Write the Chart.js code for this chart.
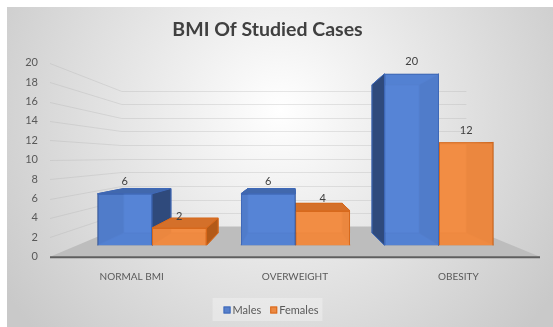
<!DOCTYPE html>
<html><head><meta charset="utf-8">
<script src="https://cdn.jsdelivr.net/npm/chart.js@4.4.0/dist/chart.umd.min.js"></script>
<style>html,body{margin:0;padding:0;background:#fff;overflow:hidden}canvas{display:block}</style>
</head><body>
<canvas id="c" width="553" height="327"></canvas>
<script>
// ---- data ----
const categories = ['NORMAL BMI', 'OVERWEIGHT', 'OBESITY'];
const males = [6, 6, 20];
const females = [2, 4, 12];
const seriesNames = ['Males', 'Females'];
const yTickMin = 0, yTickMax = 20, yTickStep = 2;
const chartTitle = 'BMI Of Studied Cases';

// ---- style ----
const FONT = 'Lato, "Open Sans", sans-serif';
const VIEW = {vx: 0.494, vy: 0.476, wall: 0.703, depth: 0.865};
const STYLE = [
  {front: 'rgba(86,133,215,0.86)', border: '#3f69b8', top: '#4168ad', side: '#2f4a7c', back: '#5780cc', edge: 'rgba(45,80,150,0.75)'},
  {front: 'rgba(243,141,68,0.88)', border: '#d8691c', top: '#d4702a', side: '#b35a18', back: '#ec8942', edge: 'rgba(200,95,20,0.75)'}
];

function vp(a) { return {x: a.left + VIEW.vx * (a.right - a.left), y: a.top + VIEW.vy * (a.bottom - a.top)}; }

function poly(ctx, pts, fill, stroke) {
  ctx.beginPath();
  ctx.moveTo(pts[0][0], pts[0][1]);
  for (let i = 1; i < pts.length; i++) ctx.lineTo(pts[i][0], pts[i][1]);
  ctx.closePath();
  if (fill) { ctx.fillStyle = fill; ctx.fill(); }
  if (stroke) { ctx.strokeStyle = stroke; ctx.lineWidth = 1; ctx.stroke(); }
}

const scene = {
  id: 'scene',
  beforeDraw(chart) {
    const {ctx, width, height} = chart;
    ctx.save();
    ctx.fillStyle = '#fff';
    ctx.fillRect(0, 0, width, height);
    const g = ctx.createRadialGradient(280, 110, 0, 280, 110, 330);
    g.addColorStop(0, '#ffffff');
    g.addColorStop(1, '#c9c9c9');
    ctx.fillStyle = g;
    ctx.fillRect(7, 7, width - 7, height - 7);
    ctx.font = 'bold 19.5px ' + FONT;
    ctx.fillStyle = '#404040';
    ctx.textAlign = 'center';
    ctx.textBaseline = 'middle';
    ctx.fillText(chartTitle, 267.5, 30);
    ctx.restore();
  },
  beforeDatasetsDraw(chart) {
    const {ctx, chartArea: a} = chart;
    const ys = chart.scales.y;
    const V = vp(a);
    const P = (x, y, s) => [V.x + s * (x - V.x), V.y + s * (y - V.y)];
    ctx.save();
    // gridlines on left and back walls
    ctx.strokeStyle = 'rgba(170,170,170,0.28)';
    ctx.lineWidth = 1;
    ys.ticks.forEach(t => {
      if (t.value === 0) return;
      const yw = Math.round(ys.getPixelForValue(t.value)) + 0.5;
      const bl = P(a.left, yw, VIEW.wall), br = P(a.right, yw, VIEW.wall);
      const by = Math.round(bl[1]) + 0.5;
      ctx.beginPath();
      ctx.moveTo(a.left, yw);
      ctx.lineTo(bl[0], by);
      ctx.lineTo(br[0], by);
      ctx.stroke();
    });
    // floor
    const fl = P(a.left, a.bottom, VIEW.wall), fr = P(a.right, a.bottom, VIEW.wall);
    poly(ctx, [[a.left, a.bottom], [a.right, a.bottom], fr, fl], '#bdbdbd');
    ctx.strokeStyle = '#5e5e5e';
    ctx.lineWidth = 2;
    ctx.beginPath();
    ctx.moveTo(a.left, a.bottom + 0.5);
    ctx.lineTo(a.right, a.bottom + 0.5);
    ctx.stroke();
    // bar depth (back, sides, top) from library bar geometry
    const items = [];
    chart.data.datasets.forEach((ds, di) => {
      chart.getDatasetMeta(di).data.forEach(el => {
        const p = el.getProps(['x', 'y', 'base', 'width'], true);
        items.push({p, st: STYLE[di]});
      });
    });
    items.sort((m, n) => Math.abs(n.p.x - V.x) - Math.abs(m.p.x - V.x));
    items.forEach(({p, st}) => {
      const l = p.x - p.width / 2, r = p.x + p.width / 2, t = p.y, b = p.base;
      const TL = [l, t], TR = [r, t], BR = [r, b], BL = [l, b];
      const tl = P(l, t, VIEW.depth), tr = P(r, t, VIEW.depth), br = P(r, b, VIEW.depth), bl = P(l, b, VIEW.depth);
      const faces = [
        {pts: [TL, TR, tr, tl], vis: t > V.y, c: st.top},
        {pts: [BL, BR, br, bl], vis: b < V.y, c: st.top},
        {pts: [TL, BL, bl, tl], vis: l > V.x, c: st.side},
        {pts: [TR, BR, br, tr], vis: r < V.x, c: st.side}
      ];
      poly(ctx, [tl, tr, br, bl], st.back);
      faces.filter(f => !f.vis).forEach(f => poly(ctx, f.pts, f.c));
      poly(ctx, [tl, tr, br, bl], null, st.edge);
      ctx.beginPath();
      [[TL, tl], [TR, tr], [BR, br], [BL, bl]].forEach(([A, B]) => { ctx.moveTo(A[0], A[1]); ctx.lineTo(B[0], B[1]); });
      ctx.strokeStyle = st.edge; ctx.lineWidth = 1; ctx.stroke();
      faces.filter(f => f.vis).forEach(f => poly(ctx, f.pts, f.c, st.border));
    });
    ctx.restore();
  },
  afterDatasetsDraw(chart) {
    const {ctx} = chart;
    ctx.save();
    ctx.font = '11px ' + FONT;
    ctx.fillStyle = '#404040';
    ctx.textAlign = 'center';
    ctx.textBaseline = 'middle';
    chart.data.datasets.forEach((ds, di) => {
      chart.getDatasetMeta(di).data.forEach((el, i) => {
        const p = el.getProps(['x', 'y'], true);
        ctx.fillText(String(ds.data[i].y), p.x, p.y - 12);
      });
    });
    ctx.restore();
  },
  afterDraw(chart) {
    const {ctx} = chart;
    ctx.save();
    ctx.font = '11px ' + FONT;
    const ds = chart.data.datasets;
    const sq = 7, gap = 2, sep = 9;
    let total = 0;
    ds.forEach((d, i) => { total += sq + gap + ctx.measureText(d.label).width + (i < ds.length - 1 ? sep : 0); });
    let x = 271 - total / 2;
    const cy = 310;
    ctx.fillStyle = 'rgba(255,255,255,0.3)';
    ctx.fillRect(x - 11, 298, total + 15, 23);
    ds.forEach((d, i) => {
      ctx.fillStyle = STYLE[i].back;
      ctx.fillRect(x, cy - 3.5, sq, sq);
      ctx.strokeStyle = STYLE[i].border;
      ctx.lineWidth = 1;
      ctx.strokeRect(x + 0.5, cy - 3, sq - 1, sq - 1);
      x += sq + gap;
      ctx.fillStyle = '#595959';
      ctx.textBaseline = 'middle';
      ctx.textAlign = 'left';
      ctx.fillText(d.label, x, cy);
      x += ctx.measureText(d.label).width + sep;
    });
    ctx.restore();
  }
};

const chart = new Chart(document.getElementById('c'), {
  type: 'bar',
  data: {
    labels: categories,
    datasets: [
      {label: seriesNames[0], data: males.map((v, i) => ({x: i, y: v})), xAxisID: 'xb', yAxisID: 'yb',
       backgroundColor: STYLE[0].front, borderColor: STYLE[0].border, borderWidth: 1,
       categoryPercentage: 0.76, barPercentage: 1},
      {label: seriesNames[1], data: females.map((v, i) => ({x: i, y: v})), xAxisID: 'xb', yAxisID: 'yb',
       backgroundColor: STYLE[1].front, borderColor: STYLE[1].border, borderWidth: 1,
       categoryPercentage: 0.76, barPercentage: 1}
    ]
  },
  options: {
    responsive: false,
    animation: false,
    events: [],
    layout: {padding: {left: 7, right: 13, top: 62.7, bottom: 0}},
    plugins: {
      legend: {display: false},
      tooltip: {enabled: false},
      title: {display: false}
    },
    scales: {
      x: {type: 'category', position: 'bottom', offset: true,
          grid: {display: false, drawTicks: false}, border: {display: false},
          ticks: {color: '#595959', font: {family: FONT, size: 10}, padding: 14, maxRotation: 0},
          afterFit: s => { s.height = 70.3; }},
      y: {type: 'linear', position: 'left', min: yTickMin, max: yTickMax,
          grid: {display: false, drawTicks: false}, border: {display: false},
          ticks: {stepSize: yTickStep, color: '#595959', font: {family: FONT, size: 11}, padding: 12},
          afterFit: s => { s.width = 43; }},
      xb: {type: 'linear', display: false, offset: false, min: -0.711, max: 2.704,
           afterBuildTicks: s => { s.ticks = categories.map((c, i) => ({value: i})); }},
      yb: {type: 'linear', display: false, min: -1.35, max: 21.3}
    }
  },
  plugins: [scene]
});
</script>
</body></html>
